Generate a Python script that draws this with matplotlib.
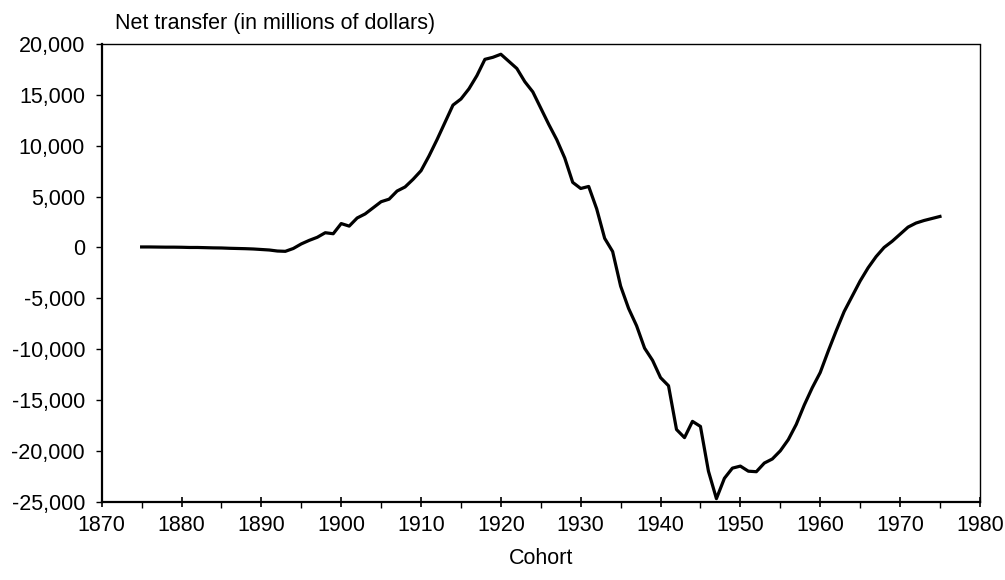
import numpy as np
import matplotlib.pyplot as plt
from matplotlib.ticker import MultipleLocator, FuncFormatter

plt.rcParams['font.family'] = ['Liberation Sans', 'DejaVu Sans']

# cohort birth years and net transfer (millions of dollars)
years = list(range(1875, 1976))
transfer = [
    50, 50, 40, 30, 30, 20, 0, 0, -20, -40,                        # 1875-1884
    -50, -80, -100, -120, -150, -200, -250, -350, -380, -100,      # 1885-1894
    350, 700, 1000, 1450, 1350, 2350, 2100, 2900, 3300, 3900,      # 1895-1904
    4500, 4750, 5550, 5950, 6700, 7550, 9000, 10600, 12300, 14000,  # 1905-1914
    14600, 15600, 16900, 18500, 18700, 19000, 18300, 17600, 16300, 15300,  # 1915-1924
    13700, 12100, 10600, 8800, 6400, 5800, 6000, 3800, 900, -400,  # 1925-1934
    -3800, -6000, -7700, -9900, -11100, -12800, -13600, -17900, -18700, -17100,  # 1935-1944
    -17600, -22000, -24700, -22700, -21700, -21500, -22000, -22050, -21200, -20800,  # 1945-1954
    -20000, -18900, -17400, -15500, -13800, -12300, -10200, -8200, -6300, -4800,  # 1955-1964
    -3300, -2000, -900, 0, 600, 1300, 2000, 2400, 2650, 2850,      # 1965-1974
    3050,                                                          # 1975
]

fig = plt.figure(figsize=(10.05, 5.8), dpi=100)
ax = fig.add_axes([0.1012, 0.135, 0.8738, 0.789])

ax.plot(years, transfer, color='black', lw=2.3, solid_joinstyle='round')

ax.set_xlim(1870, 1980)
ax.set_ylim(-25000, 20000)
ax.xaxis.set_major_locator(MultipleLocator(10))
ax.xaxis.set_minor_locator(MultipleLocator(5))
ax.yaxis.set_major_locator(MultipleLocator(5000))
ax.yaxis.set_major_formatter(FuncFormatter(lambda v, p: f"{int(v):,}"))

ax.tick_params(axis='x', which='major', direction='inout', length=7, width=1.2,
               labelsize=15.5, pad=6)
ax.tick_params(axis='x', which='minor', direction='out', length=4, width=1)
ax.tick_params(axis='y', which='major', direction='out', length=4, width=1,
               labelsize=15.5, pad=8)

for s in ['left', 'bottom']:
    ax.spines[s].set_linewidth(1.6)
for s in ['top', 'right']:
    ax.spines[s].set_linewidth(1.0)
    ax.spines[s].set_linestyle((0, (5, 1)))

ax.set_xlabel('Cohort', fontsize=15.5, labelpad=9)
fig.text(115 / 1005, 1 - 23 / 580, 'Net transfer (in millions of dollars)',
         fontsize=15.5, ha='left', va='center')

fig.savefig('out.png', dpi=100)
